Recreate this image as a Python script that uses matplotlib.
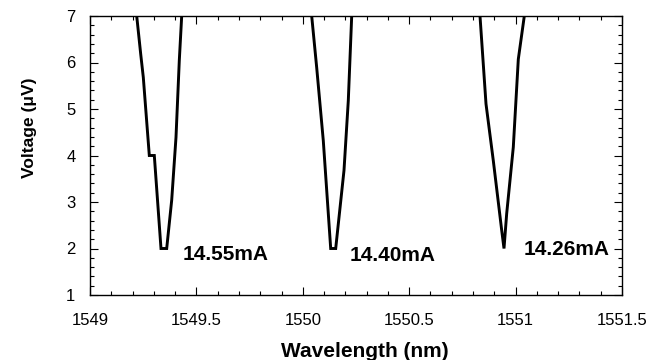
import matplotlib
matplotlib.use("Agg")
import matplotlib.pyplot as plt
from matplotlib.ticker import MultipleLocator

plt.rcParams['font.family'] = ['Liberation Sans', 'DejaVu Sans']

# Dip at 14.55 mA
wl_1455 = [1549.2195, 1549.2383, 1549.2505, 1549.2787, 1549.3022, 1549.3336, 1549.3604, 1549.3839, 1549.4041, 1549.4196, 1549.4309]
v_1455 = [7.0, 6.18, 5.68, 4.0, 4.0, 2.0, 2.0, 3.04, 4.39, 6.04, 7.0]
# Dip at 14.40 mA
wl_1440 = [1550.0418, 1550.0653, 1550.0963, 1550.1311, 1550.1546, 1550.1936, 1550.2138, 1550.2298]
v_1440 = [7.0, 5.89, 4.32, 2.0, 2.0, 3.68, 5.18, 7.0]
# Dip at 14.26 mA
wl_1426 = [1550.8327, 1550.8609, 1550.8952, 1550.9347, 1550.9455, 1550.9581, 1550.9892, 1551.0127, 1551.0409]
v_1426 = [7.0, 5.11, 3.89, 2.39, 2.0, 2.75, 4.18, 6.07, 7.0]

labels = ["14.55mA", "14.40mA", "14.26mA"]
label_x = [1549.4356, 1550.2185, 1551.036]
label_y = [1.87, 1.85, 1.97]

fig = plt.figure(figsize=(6.49, 3.60), dpi=100)
L, R, T, B = 90 / 649, 622 / 649, 1 - 16 / 360, 1 - 295 / 360
ax = fig.add_axes([L, B, R - L, T - B])

for wl, v in [(wl_1455, v_1455), (wl_1440, v_1440), (wl_1426, v_1426)]:
    ax.plot(wl, v, color='black', lw=2.1, solid_joinstyle='miter')

for t, x, y in zip(labels, label_x, label_y):
    ax.text(x, y, t, fontsize=15, fontweight='bold', ha='left', va='center')

ax.set_xlim(1549, 1551.5)
ax.set_ylim(1, 7)
ax.xaxis.set_major_locator(MultipleLocator(0.5))
ax.xaxis.set_minor_locator(MultipleLocator(0.1))
ax.yaxis.set_major_locator(MultipleLocator(1))
ax.yaxis.set_minor_locator(MultipleLocator(0.2))
ax.xaxis.set_major_formatter(plt.FuncFormatter(lambda v, p: f"{v:g}"))
ax.tick_params(which='both', direction='in', top=True, right=True, labelsize=12, width=0.8)
ax.tick_params(which='major', length=6)
ax.tick_params(axis='x', which='major', pad=13)
ax.tick_params(axis='y', which='major', pad=10.5)
ax.tick_params(which='minor', length=3)
for s in ax.spines.values():
    s.set_linewidth(1.0)

ax.set_xlabel("Wavelength (nm)", fontsize=15, fontweight='bold')
ax.xaxis.set_label_coords(0.516, -0.168)
ax.set_ylabel("Voltage (\u03bcV)", fontsize=12.5, fontweight='bold')
ax.yaxis.set_label_coords(-0.100, 0.60)

fig.savefig("out.png", dpi=100)
